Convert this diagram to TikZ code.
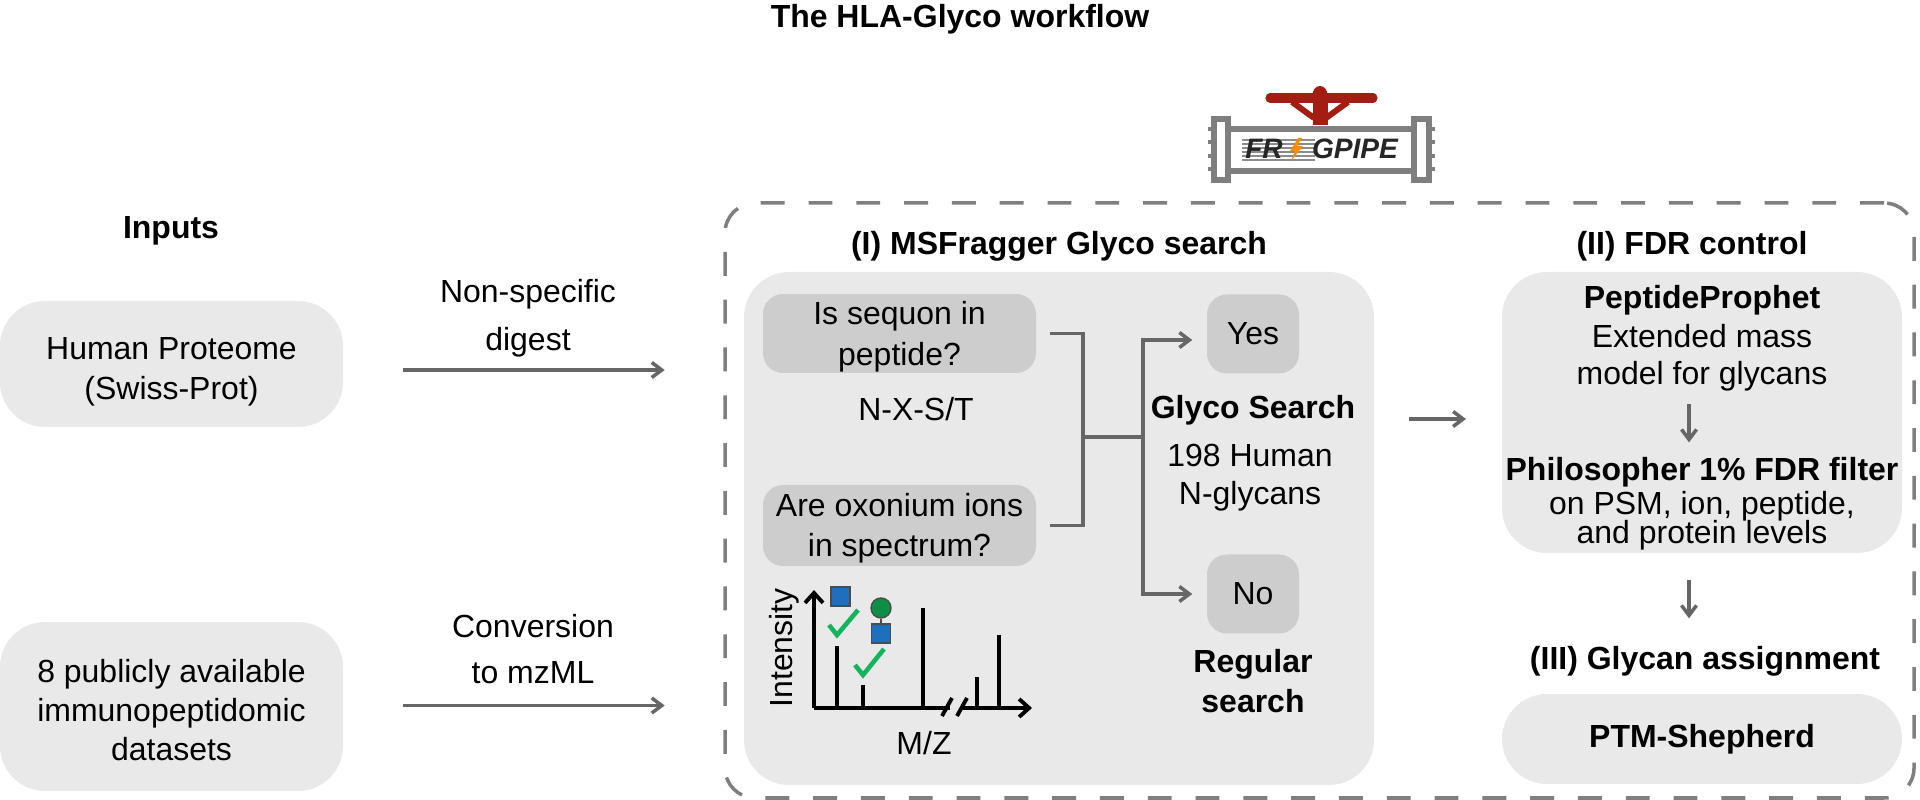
\documentclass[tikz,border=0pt]{standalone}
\usepackage{fontspec}
\setmainfont{Liberation Sans}
\usetikzlibrary{arrows.meta}
\definecolor{boxgray}{HTML}{E9E9E9}
\definecolor{askgray}{HTML}{CDCDCD}
\definecolor{flowgray}{HTML}{666666}
\definecolor{framegray}{HTML}{7F7F7F}
\definecolor{valvered}{HTML}{A31D13}
\definecolor{sugarblue}{HTML}{1F6FBF}
\definecolor{sugargreen}{HTML}{0E8F45}
\definecolor{tickgreen}{HTML}{12B45C}
\newcommand{\mainsize}{\fontsize{9.1}{11.2}\selectfont}
\newcommand{\logosize}{\fontsize{8}{8}\selectfont}
\newcommand{\toprule}[1]{\rule{0pt}{#1}}
\tikzset{
  txt/.style={align=center, inner sep=0pt, font=\mainsize},
  head/.style={align=center, inner sep=0pt, font=\mainsize\bfseries},
  softbox/.style={rectangle, fill=boxgray, rounded corners=0.45cm, align=center, inner sep=0pt, font=\mainsize},
  askbox/.style={rectangle, fill=askgray, rounded corners=0.2cm, align=center, inner sep=0pt, font=\mainsize},
  flow/.style={draw=flowgray, line width=1pt, -{Straight Barb[length=1mm, width=1.5mm, line width=1pt]}},
  link/.style={draw=flowgray, line width=1pt},
  peak/.style={draw=black, line width=1.1pt},
  tick/.style={draw=tickgreen, line width=1.3pt},
  sugar/.style={rectangle, draw=black!70, line width=0.4pt, fill=sugarblue, minimum size=0.19cm, inner sep=0pt},
  pipe/.style={draw=framegray, line width=1.5pt, fill=white},
  logotxt/.style={inner sep=0pt, font=\logosize\bfseries\itshape, text=black!85},
}
\begin{document}
\begin{tikzpicture}
  \useasboundingbox (0,0) rectangle (19.2,8);

  \node[head] at (9.6,7.81) (title) {The HLA-Glyco workflow};
  \node[head] at (1.71,5.69) (inputs) {Inputs};

  % left column
  \node[softbox, minimum width=3.43cm, minimum height=1.26cm] at (1.715,4.36) (human) {\toprule{10.8pt}Human Proteome\\(Swiss-Prot)};
  \node[softbox, minimum width=3.43cm, minimum height=1.69cm] at (1.715,0.935) (datasets) {\toprule{8.7pt}8 publicly available\\immunopeptidomic\\datasets};
  \node[txt] at (5.28,4.82) (digest) {Non-specific\\[2.5pt]digest};
  \node[txt] at (5.33,1.51) (convert) {Conversion\\[2pt]to mzML};

  % frame and the two large panels
  \node[rectangle, draw=framegray, line width=1pt, dash pattern=on 6.8pt off 6.8pt, rounded corners=0.3cm, minimum width=11.89cm, minimum height=5.95cm] at (13.195,2.995) (frame) {};
  \node[softbox, minimum width=6.3cm, minimum height=5.13cm] at (10.59,2.715) (msfragger) {};
  \node[softbox, minimum width=4cm, minimum height=2.81cm] at (17.02,3.875) (fdr) {};
  \node[softbox, minimum width=4cm, minimum height=0.9cm, font=\mainsize\bfseries] at (17.02,0.61) (ptm) {PTM-Shepherd};

  \node[head] at (10.59,5.54) (searchhead) {(I) MSFragger Glyco search};
  \node[head] at (16.92,5.54) (fdrhead) {(II) FDR control};
  \node[head] at (17.05,1.39) (assign) {(III) Glycan assignment};

  % search panel
  \node[askbox, minimum width=2.73cm, minimum height=0.79cm] at (8.995,4.665) (sequon) {\toprule{8.5pt}Is sequon in\\[0.5pt]peptide?};
  \node[txt] at (9.16,3.91) (motif) {N-X-S/T};
  \node[askbox, minimum width=2.73cm, minimum height=0.81cm] at (8.995,2.745) (oxonium) {\toprule{8.2pt}Are oxonium ions\\in spectrum?};
  \node[askbox, minimum width=0.92cm, minimum height=0.79cm] at (12.53,4.66) (yes) {Yes};
  \node[askbox, minimum width=0.92cm, minimum height=0.79cm] at (12.53,2.06) (no) {No};
  \node[head] at (12.53,3.9) (glyco) {Glyco Search};
  \node[txt] at (12.5,3.22) (glycans) {198 Human\\[-0.4pt]N-glycans};
  \node[head] at (12.53,1.19) (regular) {Regular\\search};

  \coordinate (joinb) at (10.83,3.63);
  \coordinate (split) at (11.43,3.63);
  \draw[link, shorten <=0.13cm] (sequon.east) -| (joinb);
  \draw[link, shorten <=0.13cm] (oxonium.east) -| (joinb);
  \draw[link] (joinb) -- (split);
  \draw[flow, shorten >=0.14cm] (split) |- ([yshift=-0.06cm]yes.west);
  \draw[flow, shorten >=0.14cm] (split) |- (no.west);

  % fdr panel
  \node[head] at (17.02,5.0) (prophet) {PeptideProphet};
  \node[txt] at (17.02,4.42) (massmodel) {Extended mass\\[-0.8pt]model for glycans};
  \node[head] at (17.02,3.28) (philosopher) {Philosopher 1\% FDR filter};
  \node[txt] at (17.02,2.79) (levels) {on PSM, ion, peptide,\\[-3pt]and protein levels};

  \coordinate (midgap) at (14.66,3.81);
  \draw[flow, shorten <=0.24cm] ([yshift=-0.06cm]human.east) ++(0.35,0) -- ++(2.86,0);
  \draw[flow, shorten <=0.24cm] ([yshift=0.01cm]datasets.east) ++(0.35,0) -- ++(2.86,0);
  \draw[flow] (msfragger.east |- midgap) ++(0.34,0) -- (midgap);
  \draw[flow, shorten <=0.12cm, shorten >=0.14cm] ([xshift=-0.13cm]massmodel.south) -- ([xshift=-0.13cm]philosopher.north);
  \draw[flow, shorten <=0.26cm, shorten >=0.27cm] ([xshift=-0.13cm]fdr.south) -- ([xshift=-0.16cm]assign.north);

  % spectrum
  \coordinate (origin) at (8.14,0.92);
  \coordinate (ytop) at (8.14,2.1);
  \coordinate (xend) at (10.32,0.92);
  \draw[peak, -{Straight Barb[length=1mm, width=1.8mm, line width=1.1pt]}] (origin) -- (ytop);
  \draw[peak] (origin) -- (9.5,0.92);
  \draw[peak, -{Straight Barb[length=1mm, width=1.8mm, line width=1.1pt]}] (9.63,0.92) -- (xend);
  \draw[peak] (9.42,0.84) -- (9.52,1.02);
  \draw[peak] (9.57,0.84) -- (9.67,1.02);
  \foreach \peakx/\peaktop in {8.37/1.54, 8.63/1.15, 9.23/1.92, 9.77/1.23, 9.99/1.65}
    \draw[peak] (\peakx,0.92) -- (\peakx,\peaktop);
  \node[sugar] at (8.405,2.035) (glcnaca) {};
  \node[sugar] at (8.81,1.665) (glcnacb) {};
  \node[circle, draw=black!70, line width=0.4pt, fill=sugargreen, minimum size=0.2cm, inner sep=0pt] at (8.81,1.92) (mannose) {};
  \draw[black!70, line width=0.5pt] (mannose) -- (glcnacb);
  \draw[tick] (8.29,1.75) -- (8.37,1.65) -- (8.58,1.9);
  \draw[tick] (8.55,1.35) -- (8.63,1.25) -- (8.84,1.51);
  \node[txt, rotate=90] at (7.84,1.52) (intensity) {Intensity};
  \node[txt] at (9.24,0.57) (mz) {M/Z};

  % pipe logo
  \foreach \boltx in {12.08,14.3}
    \foreach \bolty in {6.31,6.44,6.58,6.71}
      \fill[framegray] (\boltx,\bolty-0.02) rectangle ++(0.05,0.04);
  \draw[pipe] (12.28,6.71) rectangle (14.14,6.29);
  \draw[pipe] (12.14,6.81) rectangle (12.28,6.2);
  \draw[pipe] (14.14,6.81) rectangle (14.29,6.2);
  \foreach \liney in {6.40,6.44,6.48,6.52,6.56,6.60}
    \draw[black!45, line width=0.3pt] (12.42,\liney) -- (13.15,\liney);
  \node[logotxt] at (12.64,6.51) (logofr) {FR};
  \node[logotxt] at (13.55,6.51) (logogp) {GPIPE};
  \fill[orange!90!yellow] (12.98,6.62) -- (12.9,6.49) -- (12.95,6.49) -- (12.91,6.39) -- (13.03,6.54) -- (12.97,6.54) -- (13.02,6.62) -- cycle;
  \fill[valvered] (13.125,7.0) rectangle (13.275,6.75);
  \fill[valvered] (13.2,7.05) ellipse (0.075 and 0.09);
  \draw[valvered, line width=2.6pt, line cap=round] (12.70,7.02) -- (13.73,7.02);
  \draw[valvered, line width=1.7pt] (12.92,6.98) -- (13.14,6.82);
  \draw[valvered, line width=1.7pt] (13.48,6.98) -- (13.26,6.82);
\end{tikzpicture}
\end{document}
